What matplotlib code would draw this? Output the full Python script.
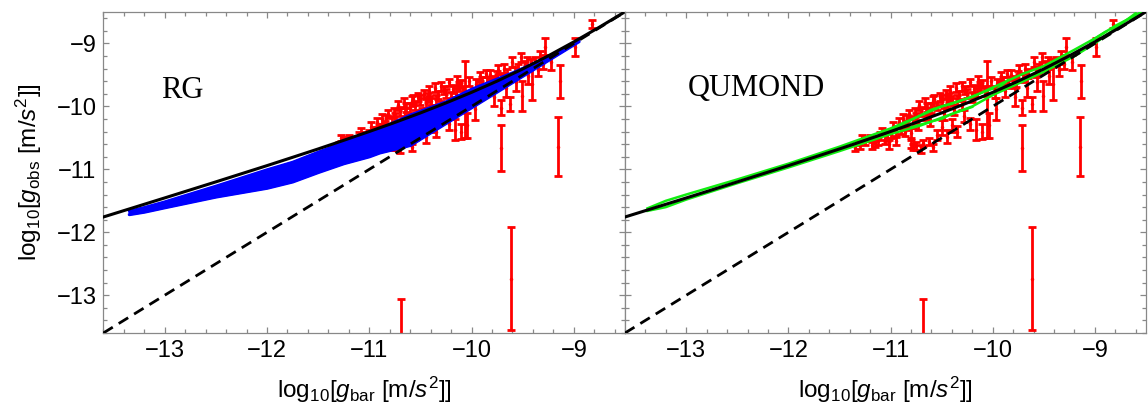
import matplotlib
matplotlib.use('Agg')
import matplotlib.pyplot as plt
from matplotlib.ticker import MultipleLocator

plt.rcParams['font.family'] = 'Liberation Sans'
plt.rcParams['mathtext.fontset'] = 'custom'
plt.rcParams['mathtext.rm'] = 'Liberation Sans'
plt.rcParams['mathtext.it'] = 'Liberation Sans:italic'

# --- data ---
# binned observations: log10 g_bar, log10 g_obs, error
obs_x = [-11.30, -11.25, -11.20, -11.15, -11.10, -11.05, -11.00, -10.95, -10.90, -10.85,
         -10.80, -10.80, -10.75, -10.68, -10.62, -10.75, -10.70, -10.65, -10.60, -10.55,
         -10.50, -10.45, -10.40, -10.40, -10.35, -10.30, -10.28, -10.25, -10.18, -10.16,
         -10.12, -10.08, -10.06, -10.04, -9.97, -9.96, -9.90, -9.85, -9.80, -9.75,
         -9.71, -9.71, -9.70, -9.65, -9.62, -9.615, -9.55, -9.51, -9.48, -9.42,
         -9.41, -9.38, -9.28, -9.15, -9.14, -8.99, -8.82, -10.685,
         -10.88, -10.82, -10.78, -10.72, -10.66, -10.58, -10.52, -10.46, -10.42, -10.36,
         -10.30, -10.22, -10.14, -10.55, -10.45, -10.35, -10.22, -10.10, -9.92, -9.88,
         -9.82, -9.78, -9.74, -9.66, -9.60, -9.57, -9.52, -9.45, -9.35, -9.33,
         -9.22, -11.35, -11.28, -11.18, -11.08, -11.02, -10.95, -10.92, -10.58, -10.70,
         -10.78, -11.12, -11.03, -10.98, -10.86, -10.84, -10.76, -10.73, -10.64, -10.61,
         -10.57, -10.50, -10.48, -10.43, -10.38, -10.33, -10.27, -10.20, -10.15, -10.10,
         -10.02, -9.98, -9.93, -9.86, -9.77, -9.68, -9.58, -9.46, -9.30]
obs_y = [-10.62, -10.55, -10.50, -10.58, -10.47, -10.52, -10.44, -10.40, -10.36, -10.30,
         -10.42, -10.60, -10.63, -10.58, -10.56, -10.18, -10.08, -10.12, -10.03, -9.99,
         -10.33, -9.95, -9.92, -10.30, -9.90, -9.98, -10.15, -9.80, -9.72, -10.37,
         -9.68, -9.75, -9.89, -10.30, -10.04, -9.65, -9.60, -9.62, -9.58, -9.52,
         -10.02, -10.66, -9.55, -9.48, -9.96, -12.74, -9.40, -9.83, -9.36, -9.30,
         -9.64, -9.28, -9.05, -10.64, -9.60, -9.06, -8.69, -13.90,
         -10.20, -10.12, -10.25, -9.98, -9.95, -9.92, -9.85, -9.80, -9.75, -9.70,
         -9.68, -9.62, -9.60, -10.45, -10.48, -10.40, -10.28, -10.40, -9.52, -9.75,
         -9.50, -9.85, -9.42, -9.70, -9.30, -9.62, -9.22, -9.52, -9.42, -9.20,
         -9.30, -10.66, -10.50, -10.62, -10.40, -10.60, -10.55, -10.25, -10.65, -10.68,
         -10.65, -10.55, -10.48, -10.32, -10.40, -10.22, -10.10, -10.30, -10.02, -10.22,
         -9.88, -9.90, -10.12, -9.86, -10.05, -9.82, -9.74, -9.85, -9.78, -9.64,
         -9.60, -9.78, -9.66, -9.48, -9.62, -9.40, -9.45, -9.28, -9.32]
obs_err = [0.05, 0.06, 0.05, 0.07, 0.07, 0.08, 0.06, 0.07, 0.08, 0.07,
           0.08, 0.06, 0.06, 0.05, 0.06, 0.08, 0.07, 0.09, 0.08, 0.06,
           0.12, 0.07, 0.06, 0.10, 0.08, 0.07, 0.10, 0.07, 0.06, 0.17,
           0.07, 0.08, 0.61, 0.20, 0.18, 0.08, 0.07, 0.08, 0.07, 0.08,
           0.12, 0.36, 0.06, 0.07, 0.11, 0.82, 0.07, 0.24, 0.08, 0.06,
           0.26, 0.07, 0.14, 0.47, 0.26, 0.14, 0.06, 0.84,
           0.08, 0.07, 0.09, 0.07, 0.08, 0.08, 0.07, 0.06, 0.08, 0.07,
           0.07, 0.06, 0.08, 0.08, 0.10, 0.09, 0.10, 0.12, 0.07, 0.10,
           0.08, 0.14, 0.07, 0.15, 0.08, 0.14, 0.07, 0.12, 0.10, 0.08,
           0.12, 0.05, 0.05, 0.06, 0.06, 0.07, 0.06, 0.07, 0.06, 0.06,
           0.05, 0.06, 0.07, 0.08, 0.07, 0.08, 0.07, 0.08, 0.07, 0.09,
           0.06, 0.08, 0.09, 0.07, 0.08, 0.07, 0.06, 0.08, 0.07, 0.06,
           0.07, 0.08, 0.07, 0.06, 0.07, 0.07, 0.08, 0.07, 0.09]

# radial acceleration relation curve
rar_x = [-13.6, -13.0, -12.5, -12.0, -11.75, -11.5, -11.25, -11.0, -10.75, -10.5,
         -10.25, -10.0, -9.75, -9.5, -9.25, -9.0, -8.75, -8.5]
rar_y = [-11.757, -11.454, -11.199, -10.941, -10.809, -10.676, -10.539, -10.399, -10.255, -10.104,
         -9.945, -9.777, -9.598, -9.405, -9.197, -8.975, -8.741, -8.497]

# one-to-one line
unity = [-13.6, -8.5]

# RG model band
rg_x = [-13.35, -13.2, -13.0, -12.5, -12.0, -11.75, -11.5, -11.25, -11.0, -10.9,
        -10.6, -10.25, -10.0, -9.6, -9.28, -8.95]
rg_upper = [-11.66, -11.60, -11.51, -11.26, -11.00, -10.88, -10.72, -10.57, -10.42, -10.35,
            -10.13, -9.92, -9.72, -9.46, -9.23, -8.95]
rg_lower = [-11.72, -11.68, -11.61, -11.44, -11.30, -11.20, -11.05, -10.91, -10.80, -10.74,
            -10.62, -10.27, -10.02, -9.62, -9.30, -8.97]

# QUMOND model curves
qm_x = [-13.38, -13.2, -13.0, -12.5, -12.0, -11.5, -11.0, -10.7, -10.5, -10.2,
        -10.0, -9.7, -9.5, -9.2, -9.0, -8.8, -8.6]
qm_upper = [-11.62, -11.50, -11.40, -11.16, -10.91, -10.64, -10.35, -10.14, -10.00, -9.85,
            -9.70, -9.48, -9.36, -9.10, -8.92, -8.72, -8.55]
qm_lower = [-11.66, -11.60, -11.48, -11.22, -10.97, -10.71, -10.44, -10.30, -10.18, -10.00,
            -9.82, -9.60, -9.45, -9.20, -9.00, -8.76, -8.52]
# curves that split apart inside the data cloud
qm_mid_x = [-11.3, -11.0, -10.8, -10.6, -10.5, -10.4, -10.2, -10.0]
qm_mid_y = [-10.58, -10.38, -10.22, -10.05, -10.00, -9.96, -9.84, -9.72]
qm_loop_x = [-10.8, -10.6, -10.5, -10.4, -10.2]
qm_loop_y = [-10.33, -10.24, -10.20, -10.12, -10.01]
# short inner segments sticking out above the curve
qm_seg_x = [[-9.95, -9.85], [-9.45, -9.35], [-9.05, -8.90], [-8.65, -8.55]]
qm_seg_y = [[-9.72, -9.58], [-9.36, -9.26], [-8.98, -8.82], [-8.62, -8.50]]

ticks = [-13, -12, -11, -10, -9]

# --- figure ---
fig = plt.figure(figsize=(11.48, 4.09), dpi=100)
ax1 = fig.add_axes([0.090, 0.1858, 0.4544, 0.7849])
ax2 = fig.add_axes([0.5444, 0.1858, 0.4538, 0.7849])

for ax in (ax1, ax2):
    ax.errorbar(obs_x, obs_y, yerr=obs_err, fmt='o', ms=1.5, color='red',
                ecolor='red', elinewidth=2, capsize=3.2, capthick=2, zorder=2)

ax1.fill_between(rg_x, rg_lower, rg_upper, color='blue', lw=1.5, zorder=3)
ax1.plot(rg_x, rg_upper, color='blue', lw=1.5, zorder=3)
ax1.plot(rg_x, rg_lower, color='blue', lw=1.5, zorder=3)

green = '#11ee11'
ax2.plot(qm_x, qm_upper, color=green, lw=1.8, zorder=3)
ax2.plot(qm_x, qm_lower, color=green, lw=1.8, zorder=3)
ax2.plot(qm_mid_x, qm_mid_y, color=green, lw=1.6, zorder=3)
ax2.plot(qm_loop_x, qm_loop_y, color=green, lw=1.6, zorder=3)
for sx, sy in zip(qm_seg_x, qm_seg_y):
    ax2.plot(sx, sy, color=green, lw=1.8, zorder=3)

for ax in (ax1, ax2):
    ax.plot(unity, unity, color='black', lw=2, ls=(0, (4, 2.5)), zorder=4)
    ax.plot(rar_x, rar_y, color='black', lw=2.2, zorder=5)

    ax.set_xlim(-13.6, -8.5)
    ax.set_ylim(-13.6, -8.5)
    ax.set_xticks(ticks)
    ax.set_yticks(ticks)
    ax.xaxis.set_minor_locator(MultipleLocator(0.2))
    ax.yaxis.set_minor_locator(MultipleLocator(0.2))
    ax.tick_params(which='both', direction='in', top=True, right=True,
                   color='#888888', width=0.9, labelsize=17, pad=5)
    ax.tick_params(which='major', length=4.5)
    ax.tick_params(which='minor', length=2.8)
    for sp in ax.spines.values():
        sp.set_color('#888888')
        sp.set_linewidth(0.9)
    ax.set_xlabel(r'$\mathrm{log}_{10}[g_{\mathrm{bar}}\ [\mathrm{m}/s^2]]$', fontsize=17.5, labelpad=9)

ax2.tick_params(labelleft=False)
ax1.set_ylabel(r'$\mathrm{log}_{10}[g_{\mathrm{obs}}\ [\mathrm{m}/s^2]]$', fontsize=17.5, labelpad=9)

ax1.text(-12.83, -9.75, 'RG', family='Liberation Serif', fontsize=22, ha='center', va='center')
ax2.text(-12.31, -9.72, 'QUMOND', family='Liberation Serif', fontsize=22, ha='center', va='center')

fig.savefig('out.png', dpi=100)
